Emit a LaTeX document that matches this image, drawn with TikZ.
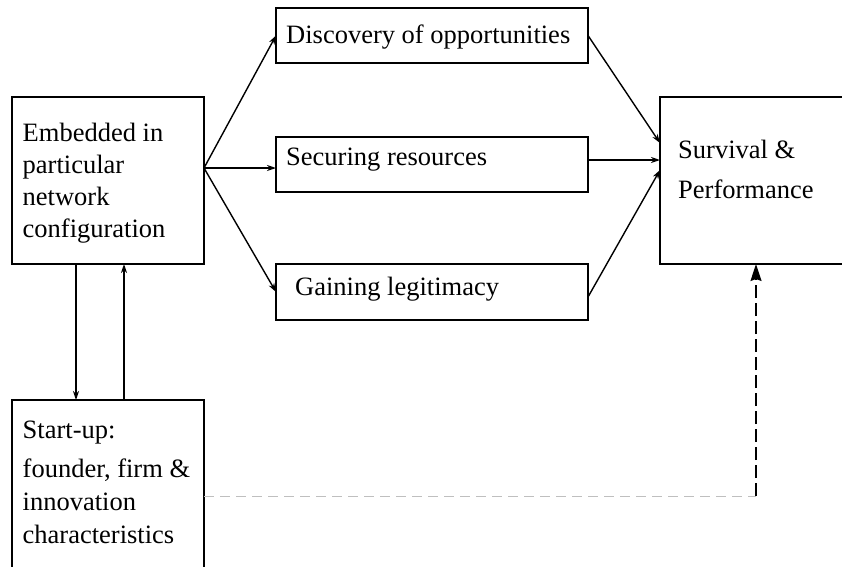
\documentclass[tikz,border=0pt]{standalone}
\usepackage{fontspec}
\setmainfont{Liberation Serif}
\usetikzlibrary{arrows.meta,calc}
\begin{document}
\begin{tikzpicture}[x=1pt,y=-1pt,
  box/.style={draw,line width=1.5pt,rectangle,inner sep=0pt,outer sep=0pt,anchor=north west},
  txt/.style={anchor=base west,inner sep=0pt,font=\fontsize{26.5}{32}\selectfont},
  arr/.style={line width=1.4pt,-{Stealth[length=9pt,width=6pt]}},
  greydash/.style={line width=1pt,color=black!25,dash pattern=on 10pt off 6pt},
  blackdash/.style={line width=1.3pt,dash pattern=on 13pt off 5pt,-{Stealth[length=17pt,width=11pt,inset=2pt]}}]
\useasboundingbox (0,0) rectangle (842,566);
\clip (0,0) rectangle (842,566);
% boxes
\node[box,minimum width=192pt,minimum height=167pt] (L) at (12,97) {};
\node[box,minimum width=312pt,minimum height=55pt] (D) at (276,8) {};
\node[box,minimum width=312pt,minimum height=55pt] (S) at (276,137) {};
\node[box,minimum width=312pt,minimum height=56pt] (G) at (276,264) {};
\node[box,minimum width=220pt,minimum height=167pt] (P) at (660,97) {};
\node[box,minimum width=192pt,minimum height=190pt] (U) at (12,400) {};
% texts
\node[txt] (l1) at (22.5,141) {Embedded in};
\node[txt] (l2) at (22.5,173) {particular};
\node[txt] (l3) at (22.5,205) {network};
\node[txt] (l4) at (22.5,237) {configuration};
\node[txt] (d1) at (286,43) {Discovery of opportunities};
\node[txt] (s1) at (286,165) {Securing resources};
\node[txt] (g1) at (295,295) {Gaining legitimacy};
\node[txt] (p1) at (678,158) {Survival \&};
\node[txt] (p2) at (678,198) {Performance};
\node[txt] (u1) at (22.5,438) {Start-up:};
\node[txt] (u2) at (22.5,477) {founder, firm \&};
\node[txt] (u3) at (22.5,510) {innovation};
\node[txt] (u4) at (22.5,543) {characteristics};
% connector points
\coordinate (Lo) at (204,168);
\coordinate (Pi1) at (660,143);
\coordinate (Pi2) at (660,160);
\coordinate (Pi3) at (660,170);
\coordinate (K) at (756,496);
% connectors
\draw[arr] (Lo) -- (D.west);
\draw[arr] (Lo) -- (Lo -| S.west);
\draw[arr] (Lo) -- (G.west);
\draw[arr] (D.east) -- (Pi1);
\draw[arr] (Pi2 -| S.east) -- (Pi2);
\draw[arr] ([yshift=-5pt]G.east) -- (Pi3);
\draw[arr] ([xshift=64pt]L.south west) -- ([xshift=64pt]U.north west);
\draw[arr] ([xshift=112pt]U.north west) -- ([xshift=112pt]L.south west);
\draw[greydash] (U.east |- K) -- (K);
\draw[blackdash] (K) -- (K |- P.south);
\end{tikzpicture}
\end{document}
